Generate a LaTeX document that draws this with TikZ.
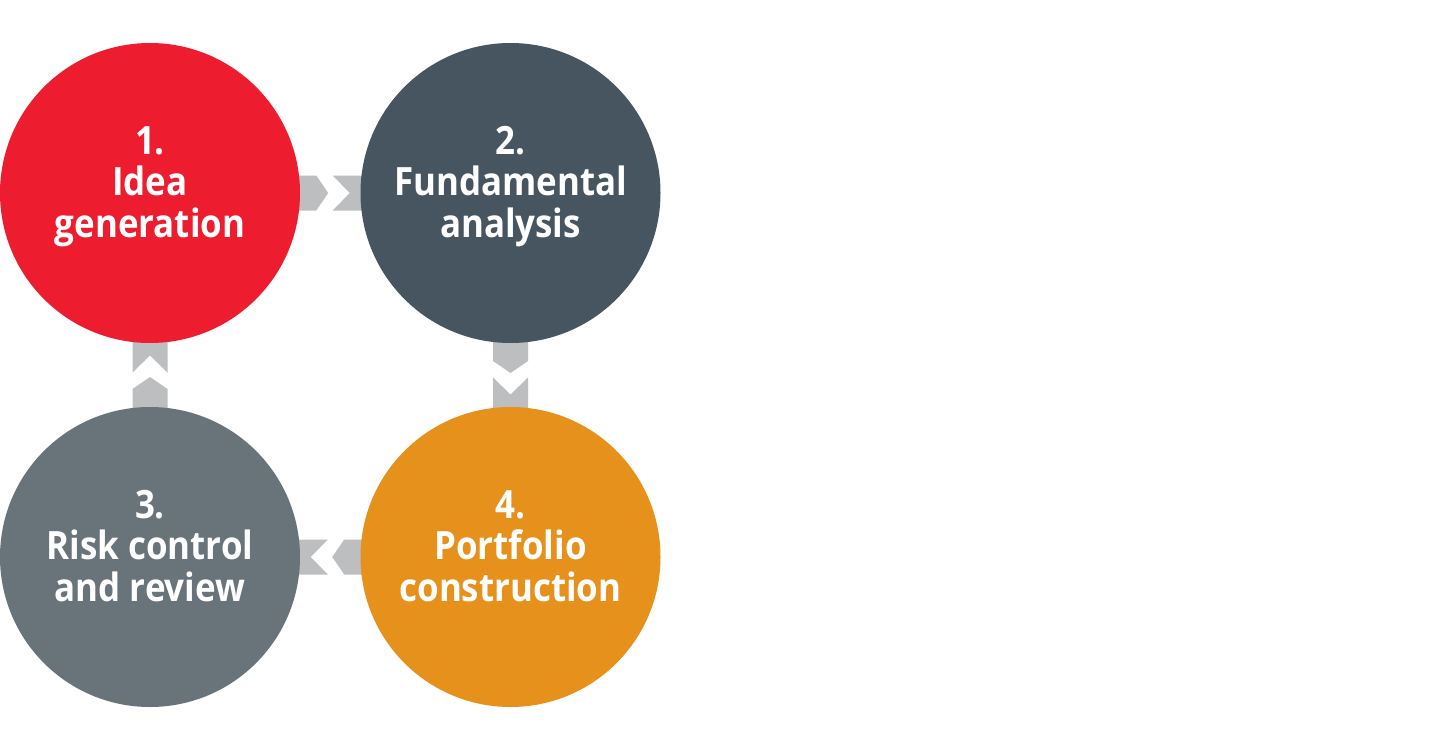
\documentclass[tikz,border=0pt]{standalone}
\usepackage{fontspec}
\newfontfamily\lblfont{Open Sans}[FakeStretch=0.895]
\usetikzlibrary{calc}
\definecolor{cred}{HTML}{ED1C2E}
\definecolor{cslate}{HTML}{465560}
\definecolor{cgray}{HTML}{69737A}
\definecolor{corange}{HTML}{E6911C}
\definecolor{carrow}{HTML}{BCBEC0}
\tikzset{
  circ/.style={circle, draw=none, minimum size=300pt, inner sep=0pt},
  lbl/.style={text=white, align=center, inner sep=0pt, anchor=north,
    font=\lblfont\bfseries\fontsize{39}{41.5}\selectfont},
  pics/chev/.style={code={
    \fill[carrow] (-45,-17.5) -- (-14,-17.5) -- (-2,0) -- (-14,17.5) -- (-45,17.5) -- cycle;
    \fill[carrow] (2.5,-17.5) -- (45,-17.5) -- (45,17.5) -- (2.5,17.5) -- (19.5,0) -- cycle;
  }}
}
\begin{document}
\begin{tikzpicture}[x=1pt,y=-1pt]
\useasboundingbox[fill=white] (0,0) rectangle (1429,749);
\coordinate (p1) at (150,193);
\coordinate (p2) at (510.5,193);
\coordinate (p3) at (150,557);
\coordinate (p4) at (510.5,557);
% connectors
\coordinate (m12) at ($(p1)!0.5!(p2)$);
\coordinate (m24) at ($(p2)!0.5!(p4)$);
\coordinate (m43) at ($(p4)!0.5!(p3)$);
\coordinate (m31) at ($(p3)!0.5!(p1)$);
\pic at (m12) {chev};
\pic[rotate=-90] at (m24) {chev};
\pic[rotate=180] at (m43) {chev};
\pic[rotate=90] at (m31) {chev};
% circles
\node[circ, fill=cred] (c1) at (p1) {};
\node[circ, fill=cslate] (c2) at (p2) {};
\node[circ, fill=cgray] (c3) at (p3) {};
\node[circ, fill=corange] (c4) at (p4) {};
% labels
\node[lbl] (t1) at ([yshift=67pt]c1.center) {1.\\Idea\\generation};
\node[lbl] (t2) at ([yshift=67pt]c2.center) {2.\\Fundamental\\analysis};
\node[lbl] (t3) at ([yshift=67pt]c3.center) {3.\\Risk control\\and review};
\node[lbl] (t4) at ([yshift=67pt]c4.center) {4.\\Portfolio\\construction};
\end{tikzpicture}
\end{document}
